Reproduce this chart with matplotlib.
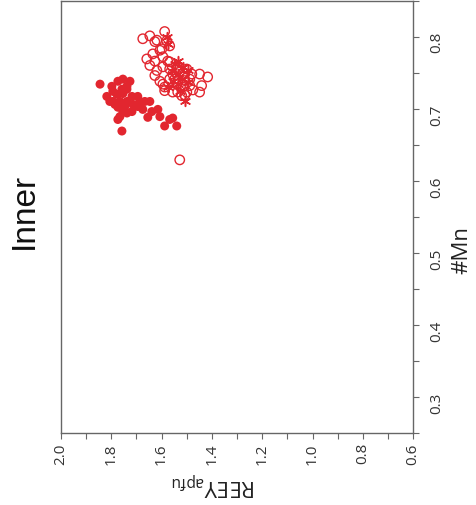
import matplotlib.pyplot as plt
from matplotlib.ticker import MultipleLocator

# REEY (apfu) vs #Mn, inner zone
red = '#e2262f'

# filled circles
reey_fill = [1.845, 1.798, 1.754, 1.726, 1.818, 1.778, 1.758, 1.738, 1.766, 1.738,
             1.718, 1.695, 1.687, 1.714, 1.774, 1.754, 1.766, 1.718, 1.675, 1.647,
             1.615, 1.655, 1.607, 1.568, 1.588, 1.540, 1.758, 1.806, 1.786, 1.794,
             1.746, 1.695, 1.639, 1.774, 1.738, 1.754, 1.667, 1.774, 1.794, 1.738,
             1.556]
mn_fill = [0.734, 0.731, 0.741, 0.738, 0.717, 0.720, 0.727, 0.727, 0.710, 0.710,
           0.717, 0.717, 0.710, 0.706, 0.702, 0.696, 0.689, 0.696, 0.699, 0.710,
           0.699, 0.688, 0.689, 0.685, 0.676, 0.676, 0.669, 0.710, 0.706, 0.724,
           0.703, 0.703, 0.696, 0.738, 0.731, 0.721, 0.710, 0.685, 0.710, 0.694,
           0.687]

# open circles
reey_open = [1.675, 1.647, 1.627, 1.588, 1.580, 1.568, 1.599, 1.635, 1.659, 1.627,
             1.595, 1.647, 1.619, 1.627, 1.595, 1.568, 1.556, 1.528, 1.500, 1.480,
             1.449, 1.417, 1.441, 1.449, 1.488, 1.500, 1.520, 1.588, 1.595, 1.540,
             1.568, 1.508, 1.528, 1.568, 1.536, 1.508, 1.548, 1.516, 1.607, 1.576,
             1.488, 1.588, 1.556, 1.476, 1.536, 1.508, 1.619, 1.607]
mn_open = [0.797, 0.801, 0.793, 0.807, 0.794, 0.787, 0.783, 0.776, 0.769, 0.766,
           0.772, 0.760, 0.753, 0.746, 0.758, 0.765, 0.748, 0.751, 0.755, 0.748,
           0.748, 0.744, 0.732, 0.723, 0.732, 0.723, 0.718, 0.725, 0.734, 0.734,
           0.741, 0.739, 0.629, 0.755, 0.757, 0.748, 0.741, 0.730, 0.738, 0.766,
           0.741, 0.730, 0.723, 0.726, 0.723, 0.719, 0.795, 0.781]

# asterisks
reey_star = [1.580, 1.576, 1.536, 1.516, 1.496, 1.508, 1.528, 1.556, 1.576, 1.496,
             1.536, 1.548, 1.560, 1.520, 1.536]
mn_star = [0.800, 0.790, 0.766, 0.758, 0.753, 0.711, 0.725, 0.739, 0.730, 0.737,
           0.748, 0.762, 0.752, 0.741, 0.734]

fig = plt.figure(figsize=(4.77, 5.06), dpi=100)
ax = fig.add_axes([0.128, 0.142, 0.738, 0.855])

ax.scatter(reey_open, mn_open, s=46, facecolors='none', edgecolors=red, linewidths=1.0, zorder=2)
ax.scatter(reey_fill, mn_fill, s=42, color=red, edgecolors='none', zorder=3)
ax.scatter(reey_star, mn_star, s=50, marker=(6, 2, 0), color=red, linewidths=1.1, zorder=4)

ax.set_xlim(2.0, 0.6)
ax.set_ylim(0.25, 0.85)
ax.xaxis.set_major_locator(MultipleLocator(0.2))
ax.xaxis.set_minor_locator(MultipleLocator(0.1))
ax.yaxis.set_major_locator(MultipleLocator(0.1))
ax.yaxis.set_minor_locator(MultipleLocator(0.05))
ax.yaxis.tick_right()

tick_font = 'Open Sans'
ax.tick_params(axis='both', which='both', direction='out', length=4, width=0.8, color='#666666')
ax.tick_params(axis='x', labelrotation=90, pad=2.5, labelsize=11)
ax.tick_params(axis='y', labelrotation=90, pad=8, labelsize=11)
for lab in ax.get_xticklabels() + ax.get_yticklabels():
    lab.set_fontfamily(tick_font)
    lab.set_color('#333333')

for sp in ax.spines.values():
    sp.set_color('#666666')
    sp.set_linewidth(1.0)

fig.text(0.968, 0.506, '#Mn', rotation=90, ha='center', va='center',
         fontsize=16, family=tick_font, color='#222222')
fig.text(0.052, 0.583, 'Inner', rotation=90, ha='center', va='center',
         fontsize=24, family='Liberation Sans', color='#111111')
fig.text(0.447, 0.046, r'REEY$_{\mathregular{apfu}}$', rotation=180, ha='center', va='center',
         fontsize=16, family=tick_font, color='#222222')

fig.savefig('out.png', dpi=100)
